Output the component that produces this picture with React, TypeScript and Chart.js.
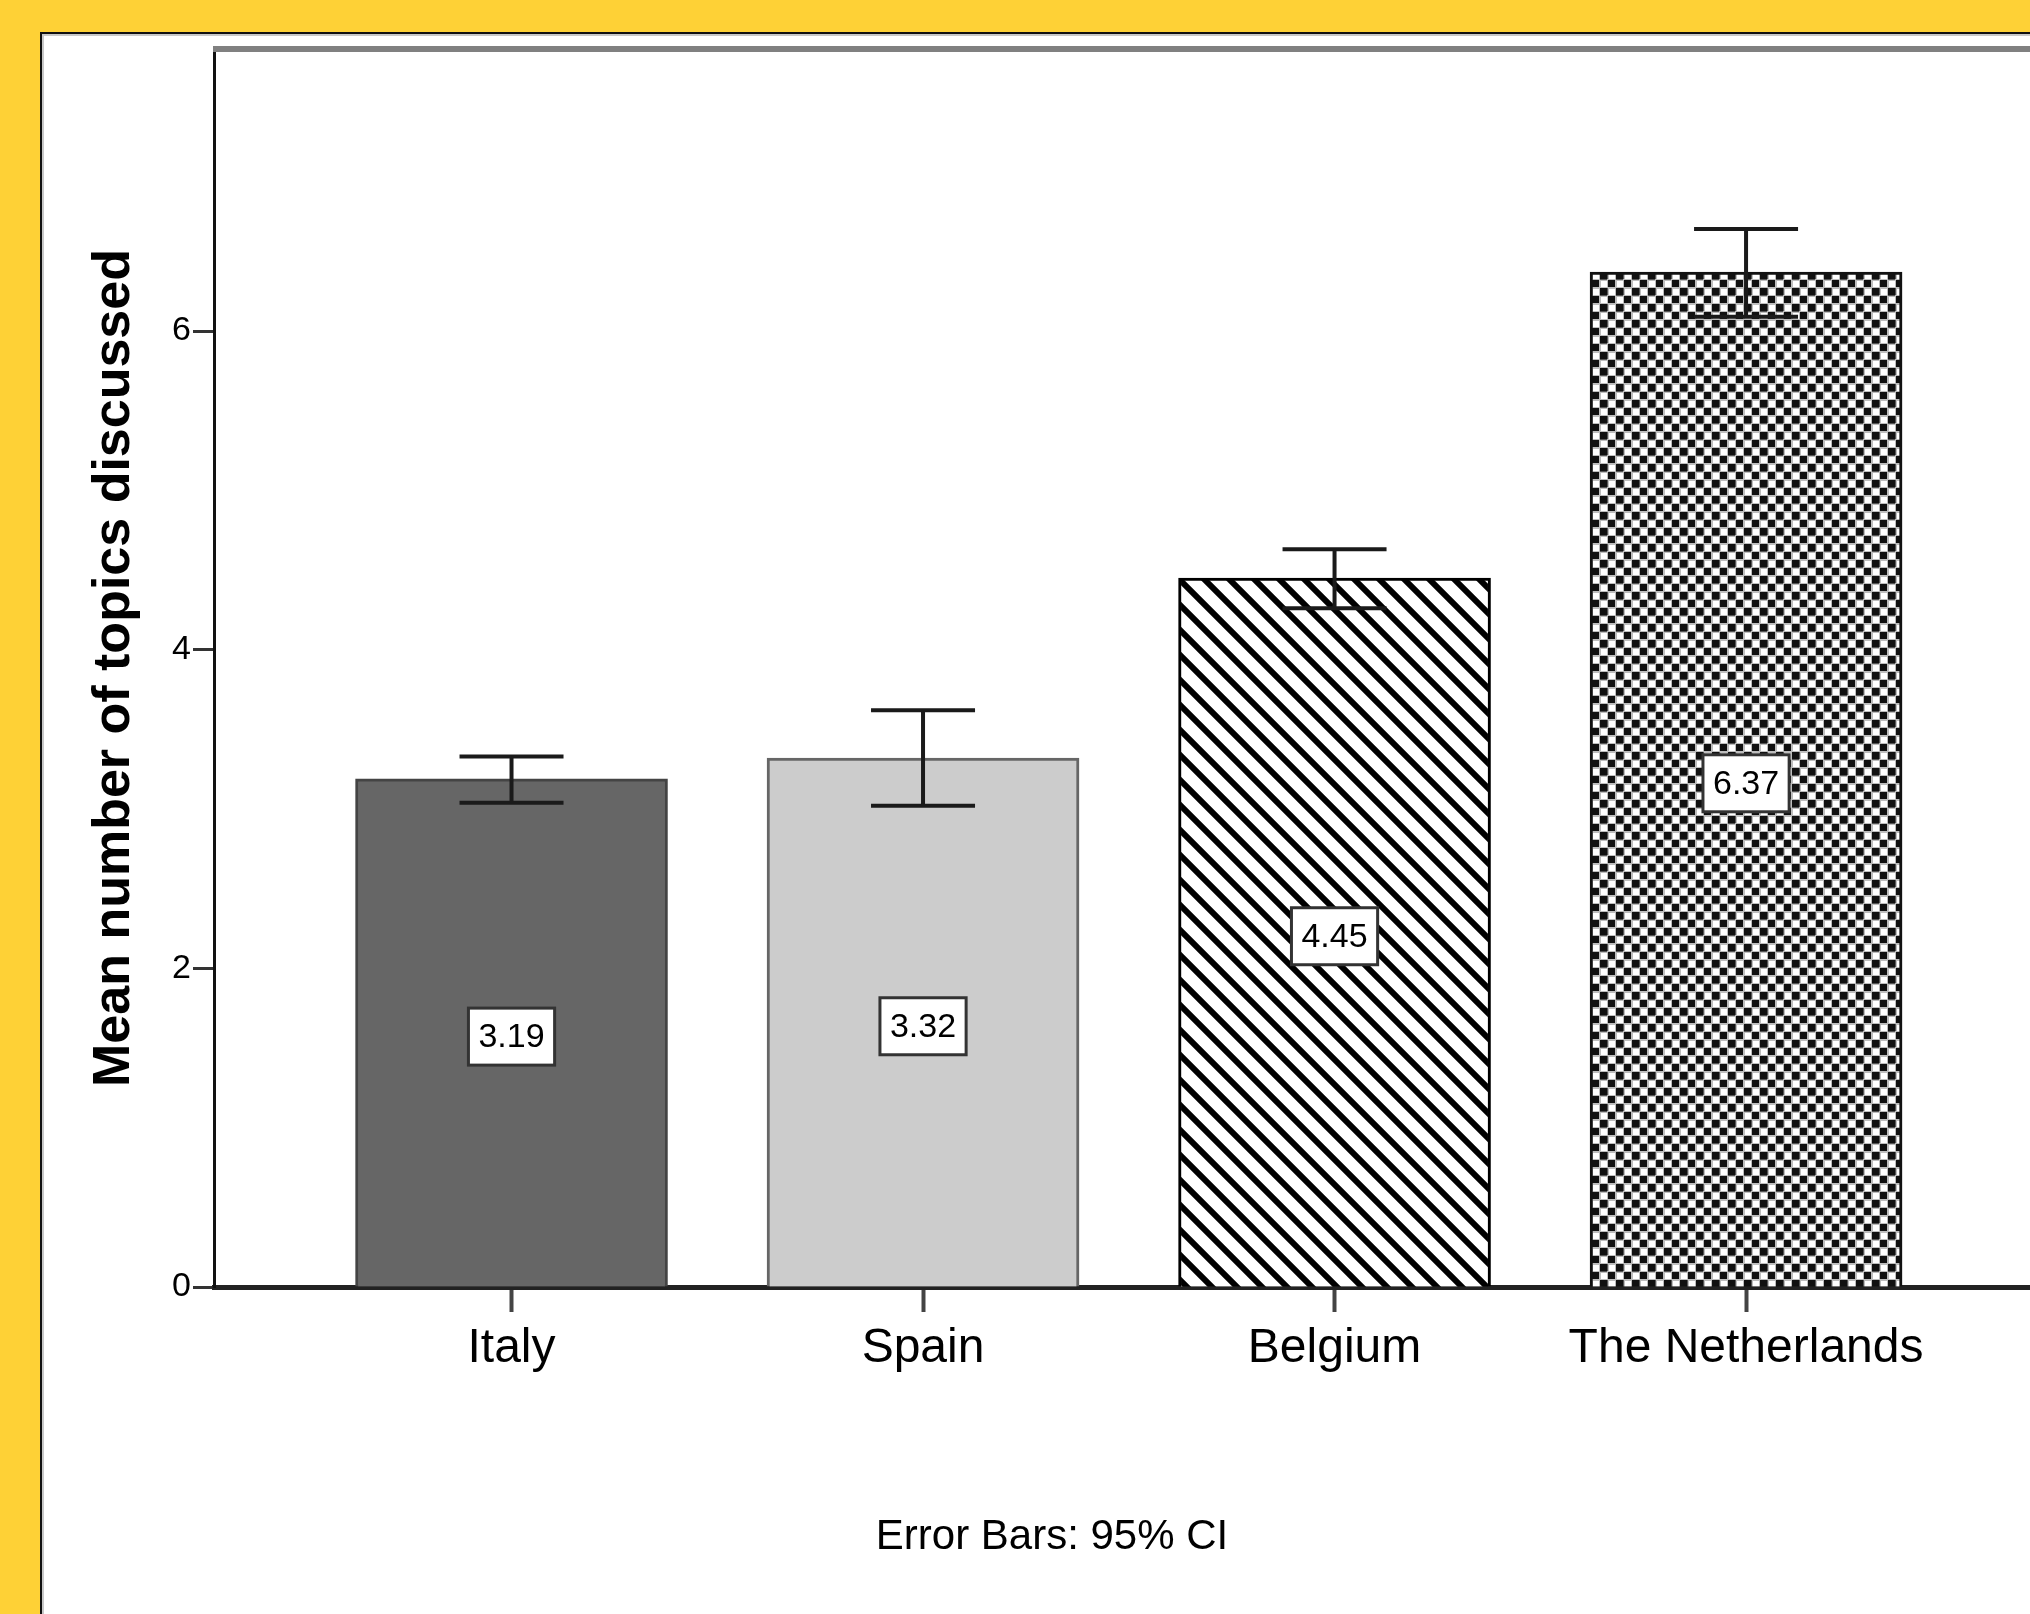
import React, { useEffect, useRef } from 'react';
import { Chart, registerables } from 'chart.js';

Chart.register(...registerables);

// ---- data ----
const categories = ['Italy', 'Spain', 'Belgium', 'The Netherlands'];
const means = [3.19, 3.32, 4.45, 6.37];
const ciLower = [3.04, 3.02, 4.26, 6.09];
const ciUpper = [3.33, 3.62, 4.63, 6.64];
const yTickValues = [0, 2, 4, 6];
const yAxisTitle = 'Mean number of topics discussed';
const footnote = 'Error Bars: 95% CI';

const FONT = "'Liberation Sans', Arial, Helvetica, sans-serif";

function makeStripePattern(): CanvasPattern | string {
  const s = 25;
  const c = document.createElement('canvas');
  c.width = s;
  c.height = s;
  const ctx = c.getContext('2d');
  if (!ctx) return '#888';
  ctx.fillStyle = '#ffffff';
  ctx.fillRect(0, 0, s, s);
  ctx.strokeStyle = '#000000';
  ctx.lineWidth = 6;
  ctx.lineCap = 'butt';
  ctx.beginPath();
  for (let k = -1; k <= 1; k++) {
    ctx.moveTo(k * s - 10, -10);
    ctx.lineTo(k * s + s + 10, s + 10);
  }
  ctx.stroke();
  const p = ctx.createPattern(c, 'repeat');
  return p || '#888';
}

function makeCheckPattern(): CanvasPattern | string {
  const s = 16;
  const c = document.createElement('canvas');
  c.width = s;
  c.height = s;
  const ctx = c.getContext('2d');
  if (!ctx) return '#777';
  ctx.fillStyle = '#bdbdbd';
  ctx.fillRect(0, 0, s, s);
  ctx.fillStyle = '#ffffff';
  ctx.fillRect(9, 1, 6, 6);
  ctx.fillRect(1, 9, 6, 6);
  ctx.fillStyle = '#111111';
  ctx.fillRect(0, 0, 7, 7);
  ctx.fillRect(8, 8, 7, 7);
  ctx.fillStyle = '#555555';
  ctx.fillRect(7, 0, 1, 7);
  ctx.fillRect(0, 7, 7, 1);
  const p = ctx.createPattern(c, 'repeat');
  return p || '#777';
}

const frameTopPlugin = {
  id: 'frameTop',
  afterDraw(chart: any) {
    const { ctx, chartArea } = chart;
    ctx.save();
    ctx.fillStyle = '#808080';
    ctx.fillRect(chartArea.left - 1, chartArea.top - 3, chartArea.right - chartArea.left + 1, 6);
    ctx.restore();
  },
};

const errorBarPlugin = {
  id: 'errorBars',
  afterDatasetsDraw(chart: any) {
    const { ctx } = chart;
    const xs = chart.scales.x;
    const ys = chart.scales.y;
    ctx.save();
    ctx.strokeStyle = '#1a1a1a';
    ctx.lineWidth = 4;
    const half = 52;
    for (let i = 0; i < categories.length; i++) {
      const x = xs.getPixelForValue(i);
      const yHi = ys.getPixelForValue(ciUpper[i]);
      const yLo = ys.getPixelForValue(ciLower[i]);
      ctx.beginPath();
      ctx.moveTo(x, yHi);
      ctx.lineTo(x, yLo);
      ctx.moveTo(x - half, yHi);
      ctx.lineTo(x + half, yHi);
      ctx.moveTo(x - half, yLo);
      ctx.lineTo(x + half, yLo);
      ctx.stroke();
    }
    ctx.restore();
  },
};

const valueLabelPlugin = {
  id: 'valueLabels',
  afterDatasetsDraw(chart: any) {
    const { ctx } = chart;
    const meta = chart.getDatasetMeta(0);
    ctx.save();
    ctx.font = `34px ${FONT}`;
    ctx.textAlign = 'center';
    ctx.textBaseline = 'middle';
    meta.data.forEach((el: any, i: number) => {
      const text = means[i].toFixed(2);
      const x = el.x;
      const y = (el.y + el.base) / 2 + 4;
      const w = ctx.measureText(text).width + 20;
      const h = 57;
      ctx.fillStyle = '#ffffff';
      ctx.fillRect(x - w / 2, y - h / 2, w, h);
      ctx.strokeStyle = '#333333';
      ctx.lineWidth = 3;
      ctx.strokeRect(x - w / 2, y - h / 2, w, h);
      ctx.fillStyle = '#000000';
      ctx.fillText(text, x, y + 1);
    });
    ctx.restore();
  },
};

export default function App() {
  const canvasRef = useRef<HTMLCanvasElement | null>(null);

  useEffect(() => {
    const canvas = canvasRef.current;
    if (!canvas) return;
    const stripes = makeStripePattern();
    const checks = makeCheckPattern();

    const chart = new Chart(canvas, {
      type: 'bar',
      data: {
        datasets: [
          {
            data: means.map((v, i) => ({ x: i, y: v })),
            backgroundColor: ['#666666', '#cccccc', stripes as any, checks as any],
            borderColor: ['#444444', '#666666', '#000000', '#111111'],
            borderWidth: 3,
            barThickness: 312,
          },
        ],
      },
      options: {
        responsive: false,
        animation: false,
        devicePixelRatio: 1,
        layout: { padding: { left: 0, top: 49, right: 0, bottom: 0 } },
        plugins: {
          legend: { display: false },
          tooltip: { enabled: false },
          title: { display: false },
        },
        scales: {
          x: {
            type: 'linear',
            position: 'bottom',
            offset: false,
            min: -0.723,
            max: 3.69,
            bounds: 'data',
            border: { display: true, color: '#222222', width: 5 },
            grid: {
              display: true,
              offset: false,
              drawOnChartArea: false,
              drawTicks: true,
              tickLength: 25,
              tickColor: '#444444',
              tickWidth: 4,
            },
            afterBuildTicks: (scale: any) => {
              scale.ticks = categories.map((_, i) => ({ value: i }));
            },
            afterTickToLabelConversion: (scale: any) => {
              scale.ticks.forEach((t: any) => {
                t.label = categories[t.value];
              });
            },
            ticks: {
              autoSkip: false,
              maxRotation: 0,
              minRotation: 0,
              padding: 8,
              color: '#000000',
              font: { family: FONT, size: 48 },
            },
            afterFit: (scale: any) => {
              scale.height = 1614 - 1287;
            },
          } as any,
          y: {
            type: 'linear',
            min: 0,
            max: 7.77,
            bounds: 'data',
            border: { display: true, color: '#111111', width: 3 },
            grid: {
              display: true,
              drawOnChartArea: false,
              drawTicks: true,
              tickLength: 21,
              tickColor: '#333333',
              tickWidth: 3,
            },
            afterBuildTicks: (scale: any) => {
              scale.ticks = yTickValues.map((v) => ({ value: v }));
            },
            ticks: {
              padding: 2,
              color: '#000000',
              font: { family: FONT, size: 34 },
            },
            title: {
              display: true,
              text: yAxisTitle,
              color: '#000000',
              font: { family: FONT, size: 52, weight: 'bold' },
              padding: { top: 83, bottom: 0 },
            },
            afterFit: (scale: any) => {
              scale.width = 214;
            },
          } as any,
        },
      },
      plugins: [frameTopPlugin, errorBarPlugin, valueLabelPlugin],
    });

    return () => {
      chart.destroy();
    };
  }, []);

  return (
    <div
      style={{
        position: 'absolute',
        left: 0,
        top: 0,
        width: 2030,
        height: 1614,
        overflow: 'hidden',
        background: '#FED136',
      }}
    >
      <div
        style={{
          position: 'absolute',
          left: 40,
          top: 32,
          width: 2030,
          height: 1614,
          background: '#ffffff',
          borderLeft: '2px solid #111',
          borderTop: '2px solid #111',
          boxShadow: 'inset 2px 2px 0 #c8c8c8',
        }}
      />
      <canvas
        ref={canvasRef}
        width={2030}
        height={1614}
        style={{ position: 'absolute', left: 0, top: 0, width: 2030, height: 1614 }}
      />
      <div
        style={{
          position: 'absolute',
          left: 1052,
          top: 1514,
          transform: 'translateX(-50%)',
          whiteSpace: 'nowrap',
          fontFamily: FONT,
          fontSize: 42,
          lineHeight: '42px',
          color: '#000',
        }}
      >
        {footnote}
      </div>
    </div>
  );
}
